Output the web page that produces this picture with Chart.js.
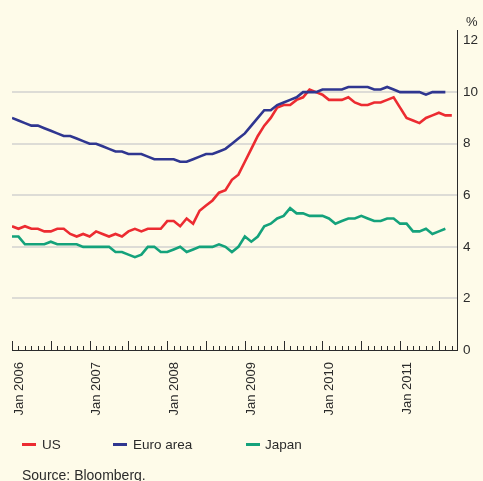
<!DOCTYPE html>
<html>
<head>
<meta charset="utf-8">
<script src="https://cdn.jsdelivr.net/npm/chart.js@4.4.1/dist/chart.umd.min.js"></script>
<style>
html,body{margin:0;padding:0;background:#fefbe9;}
#wrap{position:relative;width:483px;height:481px;overflow:hidden;background:#fefbe9;font-family:"Liberation Sans",Arial,Helvetica,sans-serif;color:#2b2b2b;}
#c{position:absolute;left:0;top:0;}
.t{position:absolute;white-space:nowrap;line-height:1;}
.sw{position:absolute;width:14px;height:3px;}
</style>
</head>
<body>
<div id="wrap">
<canvas id="c" width="483" height="481"></canvas>
<div class="t" style="left:466px;top:15px;font-size:13px;">%</div>
<div class="sw" style="left:22px;top:443px;background:#ec2b31;"></div>
<div class="t" style="left:42px;top:438px;font-size:13.5px;">US</div>
<div class="sw" style="left:113px;top:443px;background:#2f3690;"></div>
<div class="t" style="left:133px;top:438px;font-size:13.5px;">Euro area</div>
<div class="sw" style="left:246px;top:443px;background:#14a27b;"></div>
<div class="t" style="left:265px;top:438px;font-size:13.5px;">Japan</div>
<div class="t" style="left:22px;top:468px;font-size:14px;">Source: Bloomberg.</div>
</div>
<script>
// Monthly data, index 0 = first month plotted (Jan 2006 tick)
const us = [
  4.8, 4.7, 4.8, 4.7, 4.7, 4.6, 4.6, 4.7, 4.7, 4.5, 4.4, 4.5,
  4.4, 4.6, 4.5, 4.4, 4.5, 4.4, 4.6, 4.7, 4.6, 4.7, 4.7, 4.7,
  5.0, 5.0, 4.8, 5.1, 4.9, 5.4, 5.6, 5.8, 6.1, 6.2, 6.6, 6.8,
  7.3, 7.8, 8.3, 8.7, 9.0, 9.4, 9.5, 9.5, 9.7, 9.8, 10.1, 10.0,
  9.9, 9.7, 9.7, 9.7, 9.8, 9.6, 9.5, 9.5, 9.6, 9.6, 9.7, 9.8,
  9.4, 9.0, 8.9, 8.8, 9.0, 9.1, 9.2, 9.1, 9.1
];
const euro = [
  9.0, 8.9, 8.8, 8.7, 8.7, 8.6, 8.5, 8.4, 8.3, 8.3, 8.2, 8.1,
  8.0, 8.0, 7.9, 7.8, 7.7, 7.7, 7.6, 7.6, 7.6, 7.5, 7.4, 7.4,
  7.4, 7.4, 7.3, 7.3, 7.4, 7.5, 7.6, 7.6, 7.7, 7.8, 8.0, 8.2,
  8.4, 8.7, 9.0, 9.3, 9.3, 9.5, 9.6, 9.7, 9.8, 10.0, 10.0, 10.0,
  10.1, 10.1, 10.1, 10.1, 10.2, 10.2, 10.2, 10.2, 10.1, 10.1, 10.2, 10.1,
  10.0, 10.0, 10.0, 10.0, 9.9, 10.0, 10.0, 10.0
];
const japan = [
  4.4, 4.4, 4.1, 4.1, 4.1, 4.1, 4.2, 4.1, 4.1, 4.1, 4.1, 4.0,
  4.0, 4.0, 4.0, 4.0, 3.8, 3.8, 3.7, 3.6, 3.7, 4.0, 4.0, 3.8,
  3.8, 3.9, 4.0, 3.8, 3.9, 4.0, 4.0, 4.0, 4.1, 4.0, 3.8, 4.0,
  4.4, 4.2, 4.4, 4.8, 4.9, 5.1, 5.2, 5.5, 5.3, 5.3, 5.2, 5.2,
  5.2, 5.1, 4.9, 5.0, 5.1, 5.1, 5.2, 5.1, 5.0, 5.0, 5.1, 5.1,
  4.9, 4.9, 4.6, 4.6, 4.7, 4.5, 4.6, 4.7
];
const xTickMonths = [0, 12, 24, 36, 48, 60];
const xTickLabels = ['Jan 2006', 'Jan 2007', 'Jan 2008', 'Jan 2009', 'Jan 2010', 'Jan 2011'];
const yTicks = [0, 2, 4, 6, 8, 10, 12];
const lastTickMonth = 68;

const toXY = arr => arr.map((v, i) => ({ x: i, y: v }));

const monthTicks = {
  id: 'monthTicks',
  afterDraw(chart) {
    const xs = chart.scales.x, ctx = chart.ctx, b = chart.chartArea.bottom;
    ctx.save();
    ctx.strokeStyle = '#2b2b2b';
    ctx.lineWidth = 1;
    for (let m = 0; m <= lastTickMonth; m++) {
      const px = Math.round(xs.getPixelForValue(m)) + 0.5;
      const len = (m % 6 === 0) ? 9 : 4;
      ctx.beginPath();
      ctx.moveTo(px, b);
      ctx.lineTo(px, b - len);
      ctx.stroke();
    }
    ctx.restore();
  }
};

const ds = (data, color) => ({
  data: toXY(data), borderColor: color, borderWidth: 2.6,
  pointRadius: 0, tension: 0, fill: false, borderJoinStyle: 'miter', borderCapStyle: 'butt'
});

new Chart(document.getElementById('c'), {
  type: 'line',
  data: {
    datasets: [
      ds(japan, '#14a27b'),
      ds(euro, '#2f3690'),
      ds(us, '#ec2b31')
    ]
  },
  options: {
    responsive: false,
    animation: false,
    events: [],
    layout: { padding: { top: 30, left: 12, right: 0, bottom: 0 } },
    plugins: { legend: { display: false }, tooltip: { enabled: false } },
    scales: {
      x: {
        type: 'linear',
        min: 0,
        max: 68.8,
        afterBuildTicks: s => { s.ticks = xTickMonths.map(v => ({ value: v })); },
        afterFit: s => { s.height = 131; },
        grid: { display: false, drawTicks: false },
        border: { display: true, color: '#2b2b2b', width: 1 },
        ticks: {
          autoSkip: false,
          minRotation: 90,
          maxRotation: 90,
          padding: 12,
          labelOffset: 7,
          color: '#2b2b2b',
          font: { family: '"Liberation Sans", Arial, sans-serif', size: 13 },
          callback: (v) => xTickLabels[xTickMonths.indexOf(v)]
        }
      },
      y: {
        position: 'right',
        min: 0,
        max: 12.41,
        afterBuildTicks: s => { s.ticks = yTicks.map(v => ({ value: v })); },
        afterFit: s => { s.width = 26; },
        grid: {
          drawTicks: false,
          lineWidth: 2,
          color: c => (c.tick && (c.tick.value === 0 || c.tick.value === 12)) ? 'rgba(0,0,0,0)' : '#dddcd6'
        },
        border: { display: true, color: '#2b2b2b', width: 1 },
        ticks: {
          padding: 6,
          color: '#2b2b2b',
          font: { family: '"Liberation Sans", Arial, sans-serif', size: 13.5 }
        }
      }
    }
  },
  plugins: [monthTicks]
});
</script>
</body>
</html>
